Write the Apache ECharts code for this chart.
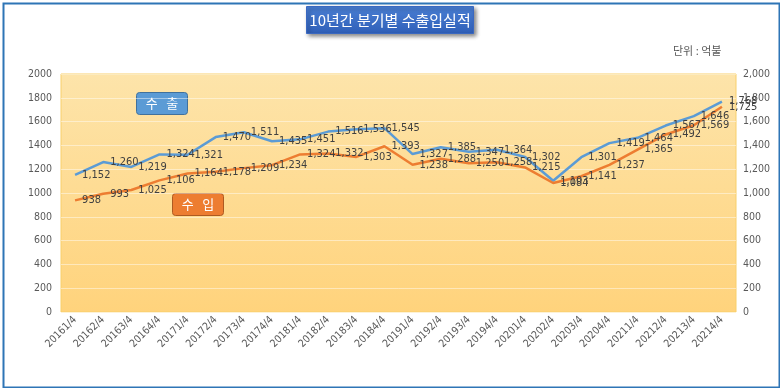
<!DOCTYPE html>
<html><head><meta charset="utf-8">
<script src="https://cdn.jsdelivr.net/npm/echarts@6/dist/echarts.min.js"></script>
<style>html,body{margin:0;padding:0;background:#fff;}#c{width:780px;height:388px;}</style>
</head><body><div id="c"></div>
<script>
const categories = ['20161/4','20162/4','20163/4','20164/4','20171/4','20172/4','20173/4','20174/4','20181/4','20182/4','20183/4','20184/4','20191/4','20192/4','20193/4','20194/4','20201/4','20202/4','20203/4','20204/4','20211/4','20212/4','20213/4','20214/4'];
const exports = [1152,1260,1219,1324,1321,1470,1511,1435,1451,1516,1536,1545,1327,1385,1347,1364,1302,1103,1301,1419,1464,1567,1646,1768];
const imports = [938,993,1025,1106,1164,1178,1209,1234,1324,1332,1303,1393,1238,1288,1250,1258,1215,1084,1141,1237,1365,1492,1569,1725];
const titleText = '10년간 분기별 수출입실적';
const unitText = '단위 : 억불';
const exportName = '수   출';
const importName = '수   입';

const chart = echarts.init(document.getElementById('c'), null, {renderer:'canvas'});
const fmt = v => Number(v).toLocaleString('en-US');
const NUMFONT = '"Liberation Sans Narrow", "DejaVu Sans Condensed", Arial, sans-serif';
const lblFont = {color:'#404040', fontSize:11, fontFamily:NUMFONT};
const axFont = {color:'#595959', fontSize:10.5, fontFamily:NUMFONT};

chart.setOption({
  animation:false,
  backgroundColor:'#ffffff',
  grid:{left:61, right:44, top:74, bottom:76, show:true,
    backgroundColor:{type:'linear',x:0,y:0,x2:0,y2:1,colorStops:[{offset:0,color:'#fde4aa'},{offset:1,color:'#ffd37c'}]},
    borderColor:'#f8cf6a', borderWidth:1},
  xAxis:{type:'category', data:categories, boundaryGap:true,
    axisLine:{show:false}, axisTick:{show:false},
    axisLabel:Object.assign({rotate:45, interval:0, margin:6}, axFont)},
  yAxis:[
    {type:'value', min:0, max:2000, interval:200, position:'left',
     axisLine:{show:false}, axisTick:{show:false},
     splitLine:{lineStyle:{color:'rgba(255,255,255,0.45)', width:1}},
     axisLabel:Object.assign({margin:9, formatter:v=>String(v)}, axFont)},
    {type:'value', min:0, max:2000, interval:200, position:'right',
     axisLine:{show:false}, axisTick:{show:false}, splitLine:{show:false},
     axisLabel:Object.assign({margin:7, formatter:fmt}, axFont)}
  ],
  series:[
    {name:exportName, type:'line', data:exports, symbol:'circle', symbolSize:0.1, showSymbol:true, yAxisIndex:0,
     lineStyle:{color:'#5b9bd5', width:2.5}, itemStyle:{color:'#5b9bd5'},
     label:Object.assign({show:true, position:'right', distance:7, formatter:p=>fmt(p.value)}, lblFont),
     labelLayout:{hideOverlap:false}},
    {name:importName, type:'line', data:imports, symbol:'circle', symbolSize:0.1, showSymbol:true, yAxisIndex:0,
     lineStyle:{color:'#ed7d31', width:2.5}, itemStyle:{color:'#ed7d31'},
     label:Object.assign({show:true, position:'right', distance:7, formatter:p=>fmt(p.value)}, lblFont),
     labelLayout:{hideOverlap:false}}
  ],
  graphic:[
    {type:'rect', left:1, top:1, shape:{width:776, height:384}, style:{fill:'none', stroke:'#2e75b6', lineWidth:2}, silent:true, z:100},
    {type:'group', left:306, top:6, children:[
      {type:'rect', shape:{width:167, height:27},
       style:{fill:{type:'linear',x:0,y:0,x2:0,y2:1,colorStops:[{offset:0,color:'#4a7fd4'},{offset:1,color:'#2f5fb8'}]},
              stroke:'#3a68c0', lineWidth:1, shadowBlur:4, shadowOffsetX:2, shadowOffsetY:2, shadowColor:'rgba(0,0,0,0.45)'}},
      {type:'text', x:83.5, y:13.5, style:{text:titleText, fill:'#ffffff', font:'15px "Noto Sans CJK KR", sans-serif', align:'center', verticalAlign:'middle'}}
    ]},
    {type:'text', left:673, top:45, style:{text:unitText, fill:'#595959', font:'11px "Noto Sans CJK KR", sans-serif'}},
    {type:'group', left:136, top:92, children:[
      {type:'rect', shape:{width:51, height:22, r:3}, style:{fill:'#5b9bd5', stroke:'#41719c', lineWidth:1}},
      {type:'text', x:25.5, y:11, style:{text:exportName, fill:'#ffffff', font:'13px "Noto Sans CJK KR", sans-serif', align:'center', verticalAlign:'middle'}}
    ]},
    {type:'group', left:172, top:193, children:[
      {type:'rect', shape:{width:51, height:22, r:3}, style:{fill:'#ed7d31', stroke:'#ae5a21', lineWidth:1}},
      {type:'text', x:25.5, y:11, style:{text:importName, fill:'#ffffff', font:'13px "Noto Sans CJK KR", sans-serif', align:'center', verticalAlign:'middle'}}
    ]}
  ]
});
</script></body></html>
